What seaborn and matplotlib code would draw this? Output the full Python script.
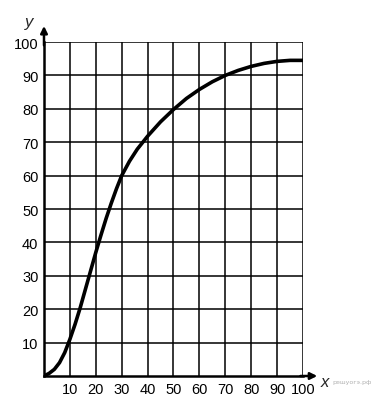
import matplotlib
matplotlib.use("Agg")
import matplotlib.pyplot as plt
import seaborn as sns
import pandas as pd

sns.set_theme(style="white")
plt.rcParams['font.family'] = ['Liberation Sans', 'DejaVu Sans']

x_vals = [0, 2, 4, 6, 8, 10, 12, 14, 16, 18, 20, 22, 24, 26, 28, 30, 33, 36, 40,
          45, 50, 55, 60, 65, 70, 75, 80, 85, 90, 95, 100]
y_vals = [0, 0.8, 2, 4, 7, 11, 15.5, 20.5, 26, 31.5, 37, 42.2, 47.2, 51.8, 56.1, 60, 64.3, 67.9, 71.8,
          76.1, 79.8, 83.1, 85.8, 88.1, 90, 91.5, 92.7, 93.6, 94.2, 94.5, 94.5]
x_ticks = [10, 20, 30, 40, 50, 60, 70, 80, 90, 100]
y_ticks = [10, 20, 30, 40, 50, 60, 70, 80, 90, 100]

df = pd.DataFrame({"x": x_vals, "y": y_vals})

fig = plt.figure(figsize=(3.71, 4.10), dpi=100)
ax = fig.add_axes([44/371, 1-377/410, (303-44)/371, (377-43)/410])

for v in x_ticks:
    ax.axvline(v, color='black', lw=1.1, zorder=1)
for v in y_ticks:
    ax.axhline(v, color='black', lw=1.1, zorder=1)

sns.lineplot(data=df, x="x", y="y", ax=ax, color='black', lw=2.6, zorder=3)
for ln in ax.lines:
    ln.set_solid_joinstyle('round')
    ln.set_solid_capstyle('round')

ax.set_xlim(0, 100)
ax.set_ylim(0, 100)
ax.set_xticks(x_ticks)
ax.set_yticks(y_ticks)
ax.set_xticklabels([str(t) for t in x_ticks], fontsize=10.5)
ax.set_yticklabels([str(t) for t in y_ticks], fontsize=10.5)
ax.tick_params(length=0, pad=4, colors='black')
ax.set_xlabel("")
ax.set_ylabel("")
for s in ['top', 'right']:
    ax.spines[s].set_visible(False)
for s in ['left', 'bottom']:
    ax.spines[s].set_color('black')
    ax.spines[s].set_linewidth(1.8)

ax.annotate('', xy=(0, 104.8), xytext=(0, 99), xycoords='data',
            arrowprops=dict(arrowstyle='-|>', color='black', lw=1.8,
                            mutation_scale=10, shrinkA=0, shrinkB=0),
            annotation_clip=False)
ax.annotate('', xy=(105.5, 0), xytext=(99, 0), xycoords='data',
            arrowprops=dict(arrowstyle='-|>', color='black', lw=1.8,
                            mutation_scale=10, shrinkA=0, shrinkB=0),
            annotation_clip=False)

fig.text(29/371, 1-22/410, "y", fontsize=12, style='italic', ha='center', va='center')
fig.text(325/371, 1-383/410, "x", fontsize=12, style='italic', ha='center', va='center')
fig.text(352/371, 1-383/410, "решуогэ.рф", fontsize=4.5, color='#b0b0b0',
         ha='center', va='center', family=['DejaVu Sans'])

fig.savefig("out.png", dpi=100, facecolor='white')
